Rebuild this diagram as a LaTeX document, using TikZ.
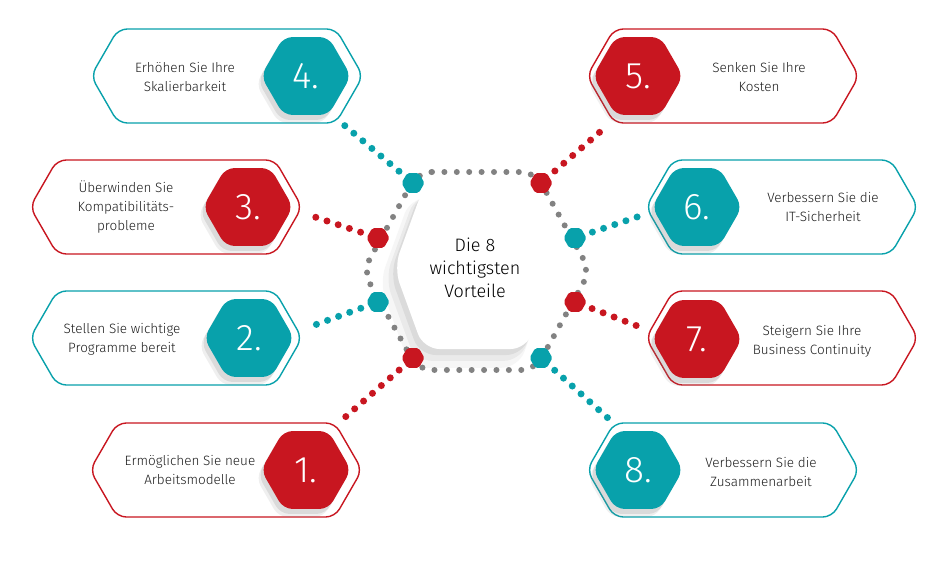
\documentclass[tikz,border=0pt]{standalone}
\usepackage{fontspec}
\setmainfont{Fira Sans Light}
\usetikzlibrary{shapes.geometric, shapes.symbols, shadows}
\definecolor{vred}{RGB}{200,22,32}
\definecolor{vteal}{RGB}{8,161,171}
\definecolor{vgray}{RGB}{130,130,130}
\definecolor{vtext}{RGB}{30,30,30}

\begin{document}
\begin{tikzpicture}[x=1pt, y=-1pt]
% Define styles
\tikzstyle{card} = [signal, signal to=east and west, signal pointer angle=120, minimum width=272pt, minimum height=94pt, inner sep=0pt, rounded corners=9pt, line width=1.4pt, fill=white]
\tikzstyle{badge} = [regular polygon, regular polygon sides=6, minimum size=90pt, inner sep=0pt, rounded corners=9pt, text=white, font=\fontsize{37}{37}\selectfont, drop shadow={shadow xshift=-5pt, shadow yshift=-8pt, opacity=0.12}, drop shadow={shadow xshift=-3pt, shadow yshift=-5pt, opacity=0.18}]
\tikzstyle{hub} = [signal, signal to=east and west, signal pointer angle=140, minimum width=162pt, minimum height=162pt, inner sep=0pt, rounded corners=16pt, fill=white, align=center, text=black, font=\fontsize{18}{23}\selectfont, drop shadow={shadow xshift=-10pt, shadow yshift=-14pt, shadow scale=1.05, opacity=0.07}, drop shadow={shadow xshift=-7pt, shadow yshift=-10pt, shadow scale=1.02, opacity=0.1}, drop shadow={shadow xshift=-4pt, shadow yshift=-6pt, opacity=0.14}]
\tikzstyle{joint} = [regular polygon, regular polygon sides=6, minimum size=23pt, inner sep=0pt, rounded corners=2pt]
\tikzstyle{dotline} = [line width=7pt, line cap=round, dash pattern=on 0pt off 11.8pt, shorten <=8pt]
\tikzstyle{cardtext} = [align=center, text=vtext, font=\fontsize{13.5}{19}\selectfont]
\useasboundingbox (0,0) rectangle (950,561);
% Centre
\node (hub) [hub] at (475,268) {Die 8\\wichtigsten\\Vorteile};
\draw [vgray, line width=6pt, line cap=round, dash pattern=on 0pt off 12.4pt, rounded corners=14pt] (418,172) -- (535,172) -- (590,271) -- (535,370) -- (418,370) -- (363,271) -- cycle;
\node (j4) [joint, fill=vteal] at (413,183) {};
\node (j3) [joint, fill=vred] at (378,238) {};
\node (j2) [joint, fill=vteal] at (378,302) {};
\node (j1) [joint, fill=vred] at (413,358) {};
\node (j5) [joint, fill=vred] at (541,183) {};
\node (j6) [joint, fill=vteal] at (575,238) {};
\node (j7) [joint, fill=vred] at (575,302) {};
\node (j8) [joint, fill=vteal] at (541,358) {};
% Dotted links
\coordinate (e4) at (344,125);
\coordinate (e3) at (312,216);
\coordinate (e2) at (312,326);
\coordinate (e1) at (343,419);
\coordinate (e5) at (608,125);
\coordinate (e6) at (640,216);
\coordinate (e7) at (640,327);
\coordinate (e8) at (609,419);
\draw [dotline, vteal] (j4) -- (e4);
\draw [dotline, vred] (j3) -- (e3);
\draw [dotline, vteal] (j2) -- (e2);
\draw [dotline, vred] (j1) -- (e1);
\draw [dotline, vred] (j5) -- (e5);
\draw [dotline, vteal] (j6) -- (e6);
\draw [dotline, vred] (j7) -- (e7);
\draw [dotline, vteal] (j8) -- (e8);
% Cards
\node (c4) [card, draw=vteal] at (227,76) {};
\node (c3) [card, draw=vred] at (166,207) {};
\node (c2) [card, draw=vteal] at (166,338) {};
\node (c1) [card, draw=vred] at (226,470) {};
\node (c5) [card, draw=vred] at (723,76) {};
\node (c6) [card, draw=vteal] at (782,207) {};
\node (c7) [card, draw=vred] at (782,338) {};
\node (c8) [card, draw=vteal] at (723,470) {};
% Badges
\node (b4) [badge, fill=vteal] at (306,76) {4.};
\node (b3) [badge, fill=vred] at (248,207) {3.};
\node (b2) [badge, fill=vteal] at (249,338) {2.};
\node (b1) [badge, fill=vred] at (306,470) {1.};
\node (b5) [badge, fill=vred] at (638,76) {5.};
\node (b6) [badge, fill=vteal] at (697,207) {6.};
\node (b7) [badge, fill=vred] at (697,339) {7.};
\node (b8) [badge, fill=vteal] at (638,470) {8.};
% Texts
\node (t4) [cardtext] at (185,77) {Erhöhen Sie Ihre\\Skalierbarkeit};
\node (t3) [cardtext] at (126,207) {Überwinden Sie\\Kompatibilitäts-\\probleme};
\node (t2) [cardtext] at (122,339) {Stellen Sie wichtige\\Programme bereit};
\node (t1) [cardtext] at (190,470) {Ermöglichen Sie neue\\Arbeitsmodelle};
\node (t5) [cardtext] at (759,77) {Senken Sie Ihre\\Kosten};
\node (t6) [cardtext] at (823,207) {Verbessern Sie die\\IT-Sicherheit};
\node (t7) [cardtext] at (812,341) {Steigern Sie Ihre\\Business Continuity};
\node (t8) [cardtext] at (761,472) {Verbessern Sie die\\Zusammenarbeit};
\end{tikzpicture}
\end{document}
